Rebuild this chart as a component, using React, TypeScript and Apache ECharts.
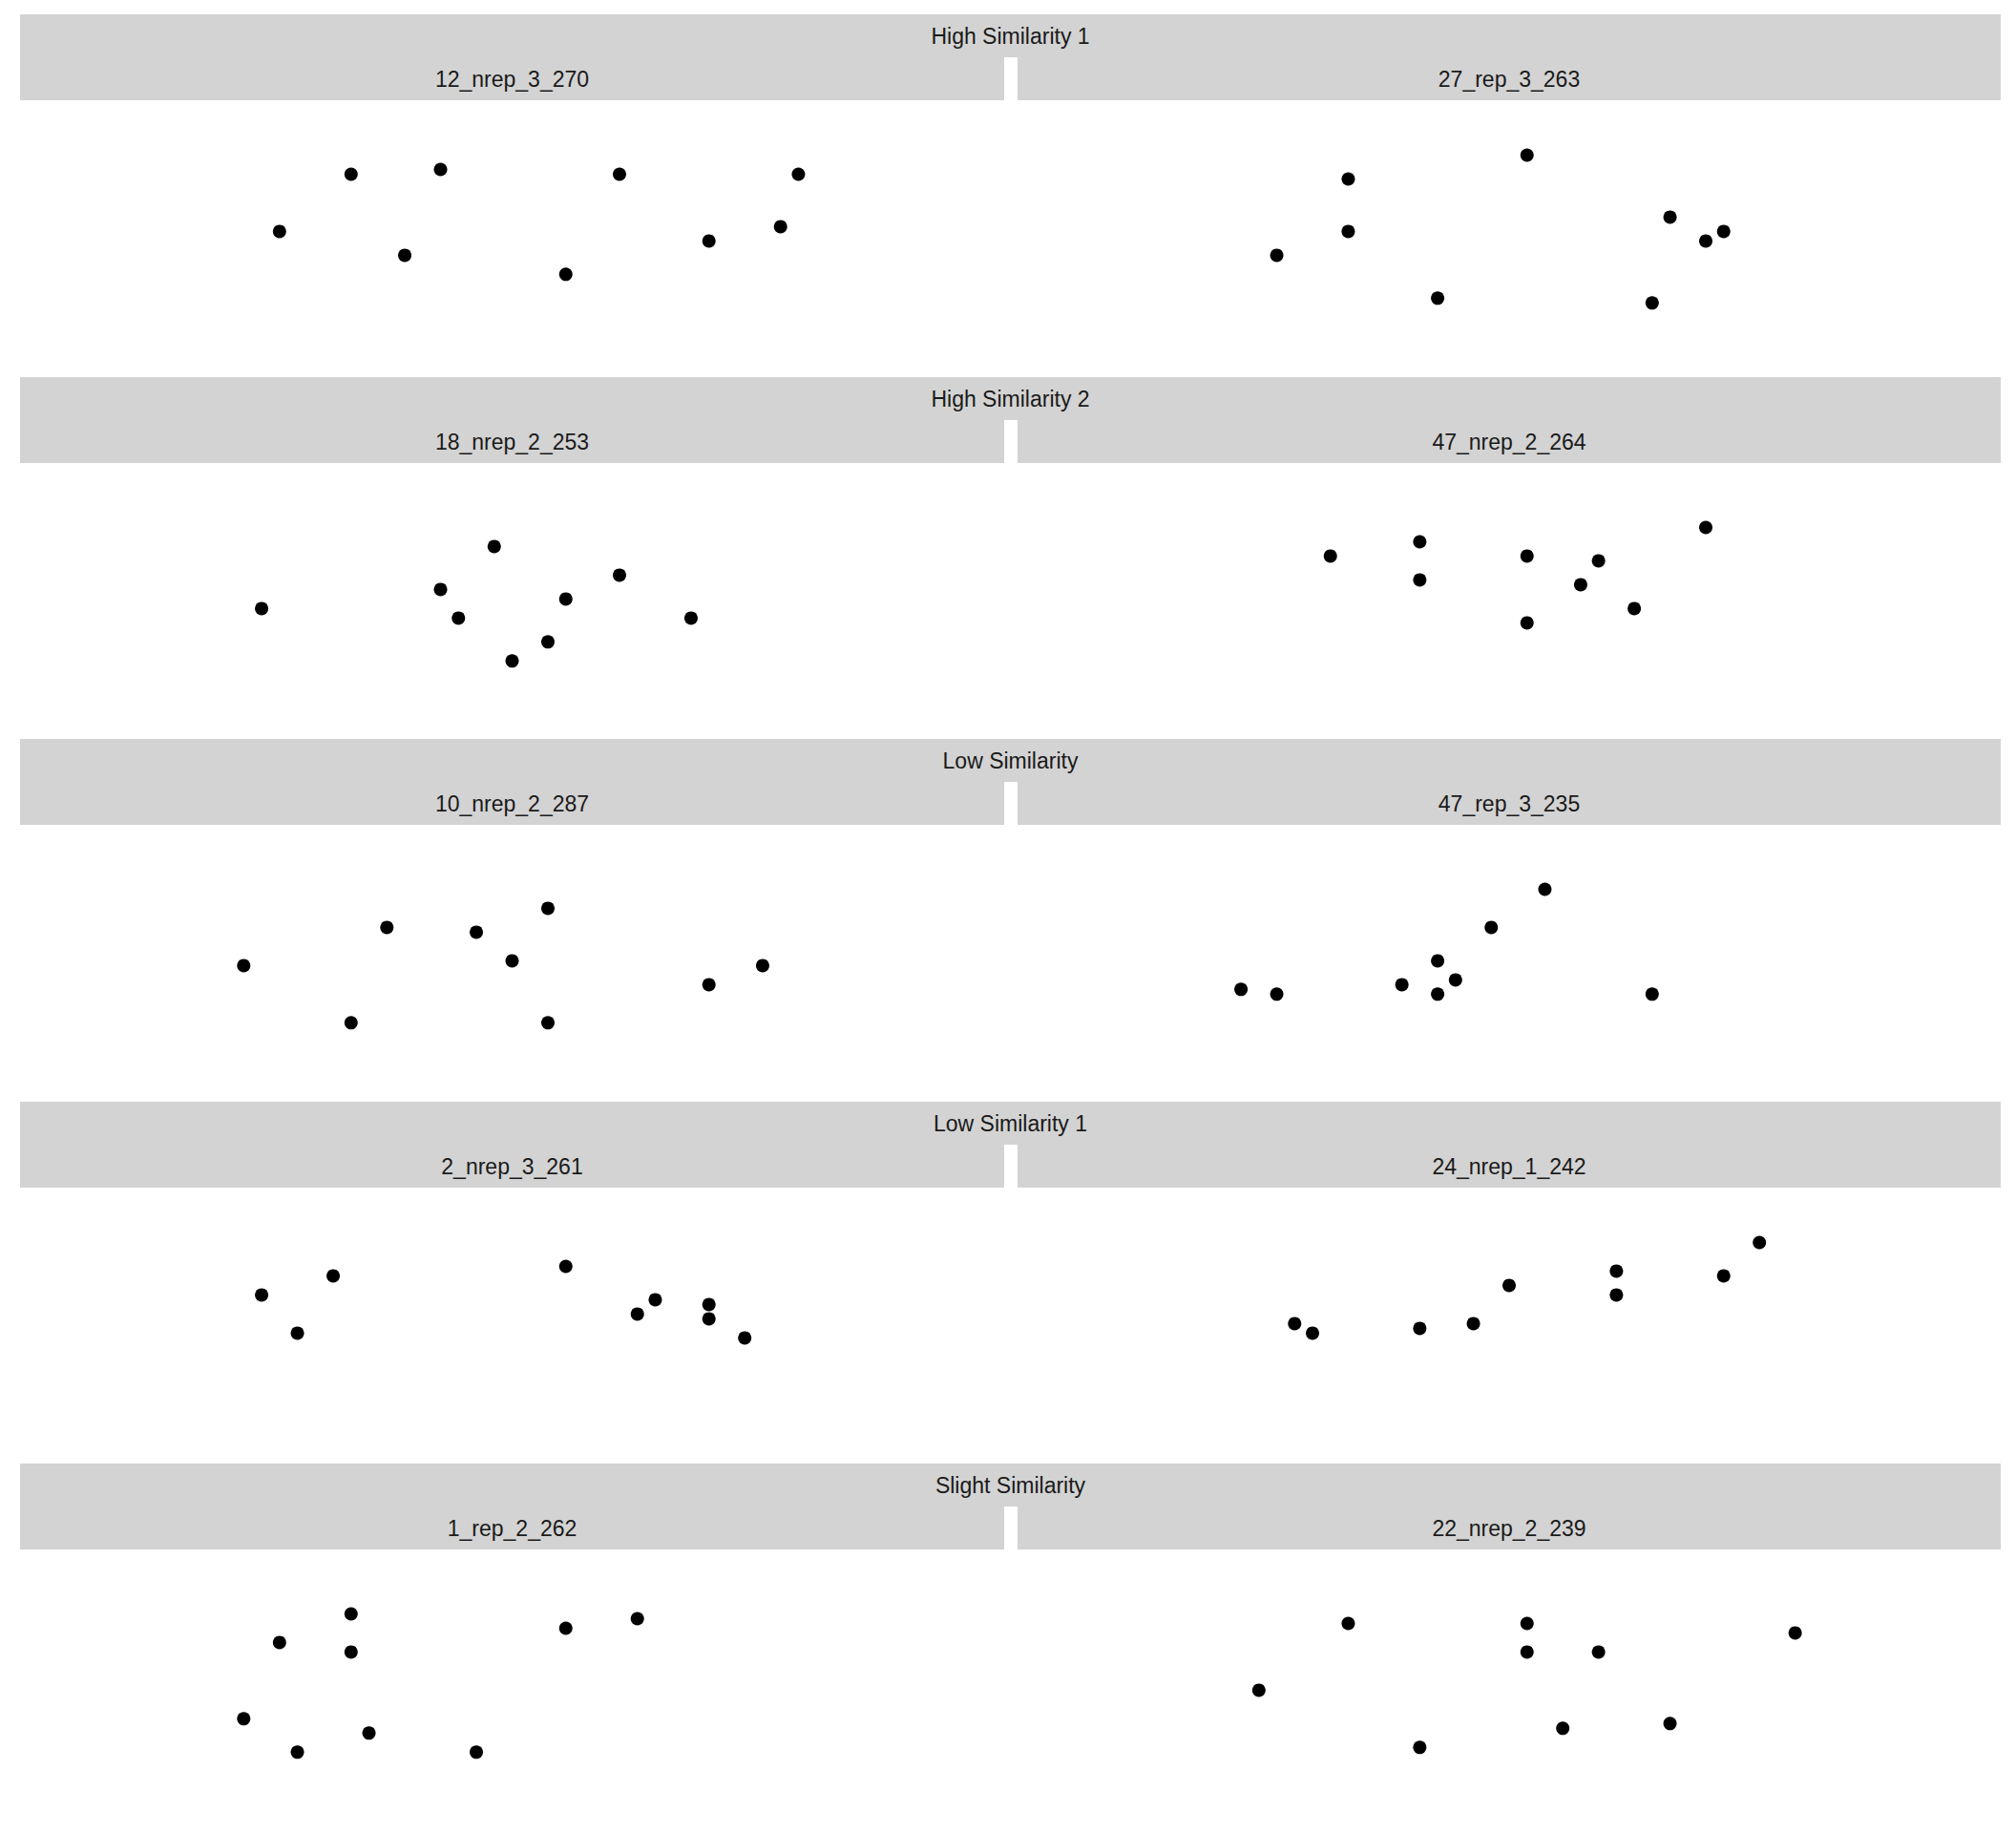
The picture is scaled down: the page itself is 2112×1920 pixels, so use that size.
import React, { useEffect, useRef } from "react";
import * as echarts from "echarts";

// Facet labels
const rowLabels = ["High Similarity 1", "High Similarity 2", "Low Similarity", "Low Similarity 1", "Slight Similarity"];
const leftLabels = ["12_nrep_3_270", "18_nrep_2_253", "10_nrep_2_287", "2_nrep_3_261", "1_rep_2_262"];
const rightLabels = ["27_rep_3_263", "47_nrep_2_264", "47_rep_3_235", "24_nrep_1_242", "22_nrep_2_239"];

// Point data [x, y] per panel
const hs1Left = [[12, 25], [16, 37], [19, 20], [21, 38], [28, 16], [31, 37], [36, 23], [40, 26], [41, 37]];
const hs1Right = [[12, 20], [16, 36], [16, 25], [21, 11], [26, 41], [33, 10], [34, 28], [36, 23], [37, 25]];
const hs2Left = [[11, 22], [21, 26], [22, 20], [24, 35], [25, 11], [27, 15], [28, 24], [31, 29], [35, 20]];
const hs2Right = [[15, 33], [20, 36], [20, 28], [26, 33], [26, 19], [29, 27], [30, 32], [32, 22], [36, 39]];
const lsLeft = [[10, 23], [16, 11], [18, 31], [23, 30], [25, 24], [27, 35], [27, 11], [36, 19], [39, 23]];
const lsRight = [[10, 18], [12, 17], [19, 19], [21, 24], [21, 17], [22, 20], [24, 31], [27, 39], [33, 17]];
const ls1Left = [[11, 30], [13, 22], [15, 34], [28, 36], [32, 26], [33, 29], [36, 28], [36, 25], [38, 21]];
const ls1Right = [[13, 24], [14, 22], [20, 23], [23, 24], [25, 32], [31, 35], [31, 30], [37, 34], [39, 41]];
const ssLeft = [[10, 17], [12, 33], [13, 10], [16, 39], [16, 31], [17, 14], [23, 10], [28, 36], [32, 38]];
const ssRight = [[11, 23], [16, 37], [20, 11], [26, 37], [26, 31], [28, 15], [30, 31], [34, 16], [41, 35]];

const leftData = [hs1Left, hs2Left, lsLeft, ls1Left, ssLeft];
const rightData = [hs1Right, hs2Right, lsRight, ls1Right, ssRight];

const AXIS_MIN = 0;
const AXIS_MAX = 50;

export default function App() {
  const ref = useRef<HTMLDivElement>(null);

  useEffect(() => {
    if (!ref.current) return;
    const chart = echarts.init(ref.current, undefined, { renderer: "svg" });

    const topMargin = 15;
    const pitch = 379.5;
    const stripH = 45;
    const panelH = 274.8;
    const cols = [
      { left: 21, width: 1031 },
      { left: 1066, width: 1030 },
    ];
    const pad = (AXIS_MAX - AXIS_MIN) * 0.05;
    const stripColor = "#D3D3D3";
    const textColor = "#1A1A1A";
    const font = "'Liberation Sans', Arial, Helvetica, sans-serif";

    const grids: any[] = [];
    const xAxes: any[] = [];
    const yAxes: any[] = [];
    const series: any[] = [];
    const graphics: any[] = [];

    rowLabels.forEach((rowLabel, r) => {
      const stripTop = Math.round(topMargin + r * pitch);
      const panelTop = stripTop + 2 * stripH;
      const fullLeft = cols[0].left;
      const fullRight = cols[1].left + cols[1].width;
      // whole strip block (outer + inner), then white gap between columns
      graphics.push({
        type: "rect",
        shape: { x: fullLeft, y: stripTop, width: fullRight - fullLeft, height: 2 * stripH },
        style: { fill: stripColor },
        silent: true,
      });
      graphics.push({
        type: "rect",
        shape: {
          x: cols[0].left + cols[0].width,
          y: stripTop + stripH,
          width: cols[1].left - (cols[0].left + cols[0].width),
          height: stripH,
        },
        style: { fill: "#FFFFFF" },
        silent: true,
      });
      graphics.push({
        type: "text",
        x: (fullLeft + fullRight) / 2,
        y: stripTop + stripH / 2,
        style: { text: rowLabel, fill: textColor, font: `23px ${font}`, align: "center", verticalAlign: "middle" },
        silent: true,
      });
      const labels = [leftLabels[r], rightLabels[r]];
      const datas = [leftData[r], rightData[r]];
      cols.forEach((c, ci) => {
        graphics.push({
          type: "text",
          x: c.left + c.width / 2,
          y: stripTop + stripH * 1.5,
          style: { text: labels[ci], fill: textColor, font: `23px ${font}`, align: "center", verticalAlign: "middle" },
          silent: true,
        });
        const idx = grids.length;
        grids.push({ left: c.left, top: panelTop, width: c.width, height: panelH, containLabel: false });
        xAxes.push({
          type: "value", gridIndex: idx, min: AXIS_MIN - pad, max: AXIS_MAX + pad, show: false,
          splitLine: { show: false },
        });
        yAxes.push({
          type: "value", gridIndex: idx, min: AXIS_MIN - pad, max: AXIS_MAX + pad, show: false,
          splitLine: { show: false },
        });
        series.push({
          type: "scatter",
          xAxisIndex: idx,
          yAxisIndex: idx,
          data: datas[ci],
          symbol: "circle",
          symbolSize: 14,
          itemStyle: { color: "#000000", opacity: 1 },
          silent: true,
        });
      });
    });

    chart.setOption({
      animation: false,
      backgroundColor: "#FFFFFF",
      grid: grids,
      xAxis: xAxes,
      yAxis: yAxes,
      series,
      graphic: graphics,
    });

    return () => chart.dispose();
  }, []);

  return (
    <div
      ref={ref}
      style={{ position: "absolute", left: 0, top: 0, width: 2112, height: 1920, background: "#fff" }}
    />
  );
}
